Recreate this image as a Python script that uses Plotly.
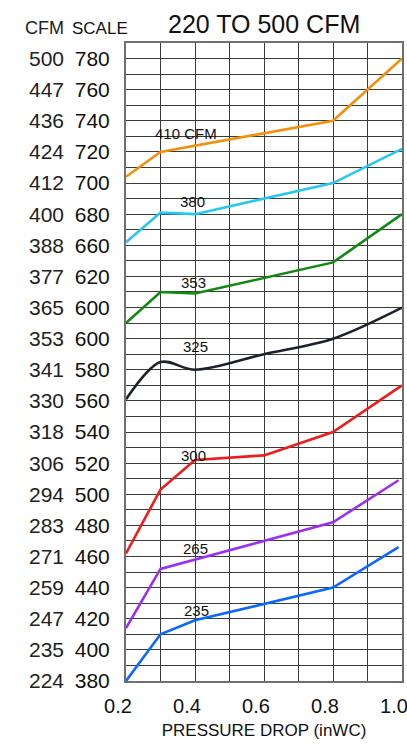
import plotly.graph_objects as go

# ---- data (position scale units) ----
x_410 = [0.2, 0.3, 0.8, 1.0]
y_410 = [704, 720, 740, 780]
x_380 = [0.2, 0.3, 0.4, 0.8, 1.0]
y_380 = [662, 681, 680, 700, 722]
x_353 = [0.2, 0.3, 0.4, 0.8, 1.0]
y_353 = [610, 630, 629, 649, 680]
x_325 = [0.2, 0.3, 0.4, 0.6, 0.8, 1.0]
y_325 = [561, 585, 580, 590, 600, 620]
x_300 = [0.2, 0.3, 0.4, 0.6, 0.8, 1.0]
y_300 = [462, 503, 522, 525, 540, 570]
x_265 = [0.2, 0.3, 0.8, 0.99]
y_265 = [414, 452, 482, 509]
x_235 = [0.2, 0.3, 0.4, 0.8, 0.99]
y_235 = [380, 410, 419, 440, 466]

series_names = ["410 CFM", "380", "353", "325", "300", "265", "235"]
series_colors = ["#F0900C", "#28C8EE", "#108A10", "#1C222C", "#EE1C1C", "#9B30F0", "#0A68FF"]
label_x = [0.374, 0.394, 0.396, 0.40, 0.397, 0.402, 0.405]
label_y = [732, 688, 636, 595, 525, 465, 425]

scale_pos = [780, 760, 740, 720, 700, 680, 660, 640, 620, 600, 580, 560, 540, 520, 500, 480, 460, 440, 420, 400, 380]
scale_text = ["780", "760", "740", "720", "700", "680", "660", "620", "600", "600", "580", "560", "540", "520",
              "500", "480", "460", "440", "420", "400", "380"]
cfm_text = ["500", "447", "436", "424", "412", "400", "388", "377", "365", "353", "341", "330", "318", "306",
            "294", "283", "271", "259", "247", "235", "224"]
x_tickvals = [0.2, 0.4, 0.6, 0.8, 1.0]
x_ticktext = ["0.2", "0.4", "0.6", "0.8", "1.0"]

FONT = "Liberation Sans, Arial, sans-serif"
GRID = "#3a3a3a"
PW = 402.0   # paper width in px (407 - r margin)
PH = 638.0   # paper height in px (744 - t - b)

xs = [x_410, x_380, x_353, x_325, x_300, x_265, x_235]
ys = [y_410, y_380, y_353, y_325, y_300, y_265, y_235]

fig = go.Figure()
for i, (xx, yy) in enumerate(zip(xs, ys)):
    fig.add_trace(go.Scatter(
        x=xx, y=yy, mode="lines", name=series_names[i],
        line=dict(color=series_colors[i], width=2.6,
                  shape="spline" if series_names[i] == "325" else "linear",
                  smoothing=0.9),
        showlegend=False, hoverinfo="skip"))

# invisible trace to activate the second (CFM) axis
fig.add_trace(go.Scatter(x=[0.2], y=[380], yaxis="y2", mode="markers",
                         marker=dict(opacity=0), showlegend=False, hoverinfo="skip"))

for name, lx, ly in zip(series_names, label_x, label_y):
    fig.add_annotation(x=lx, y=ly, text=name, showarrow=False, xanchor="center",
                       font=dict(family=FONT, size=15, color="#111"))

fig.add_annotation(x=0.5, xref="x domain", y=1 + (43 - 24) / PH, yref="paper", text="220 TO 500 CFM",
                   showarrow=False, yanchor="middle", xanchor="center",
                   font=dict(family=FONT, size=25, color="#111"))
fig.add_annotation(x=44 / PW, xref="paper", y=1 + (43 - 28) / PH, yref="paper", text="CFM",
                   showarrow=False, yanchor="middle", xanchor="center",
                   font=dict(family=FONT, size=18, color="#222"))
fig.add_annotation(x=100 / PW, xref="paper", y=1 + (43 - 28) / PH, yref="paper", text="SCALE",
                   showarrow=False, yanchor="middle", xanchor="center",
                   font=dict(family=FONT, size=17, color="#111"))

fig.update_layout(
    width=407, height=744,
    margin=dict(l=0, r=5, t=43, b=63, autoexpand=False),
    paper_bgcolor="white", plot_bgcolor="white",
    xaxis=dict(
        domain=[126 / PW, 1], range=[0.2, 1.0],
        tickvals=x_tickvals, ticktext=x_ticktext,
        showgrid=True, gridcolor=GRID, gridwidth=1.2,
        minor=dict(dtick=0.1, tick0=0.2, showgrid=True, gridcolor=GRID, gridwidth=1.2),
        showline=True, linecolor="#707070", linewidth=2, mirror=True,
        ticks="", ticklabelstandoff=6, ticklabelshift=-8, ticklabeloverflow="allow",
        tickfont=dict(family=FONT, size=20, color="#111"),
        title=dict(text="PRESSURE DROP (inWC)", standoff=8,
                   font=dict(family=FONT, size=17, color="#111")),
        zeroline=False, fixedrange=True, automargin=False,
    ),
    yaxis=dict(
        range=[380, 790],
        tickvals=scale_pos, ticktext=scale_text,
        showgrid=True, gridcolor=GRID, gridwidth=1.2,
        minor=dict(dtick=10, tick0=380, showgrid=True, gridcolor=GRID, gridwidth=1.2),
        showline=True, linecolor="#707070", linewidth=2, mirror=True,
        ticks="", ticklabelstandoff=10,
        tickfont=dict(family=FONT, size=21, color="#111"),
        zeroline=False, fixedrange=True, automargin=False,
    ),
    yaxis2=dict(
        overlaying="y", anchor="free", position=64 / PW, side="left",
        range=[380, 790],
        tickvals=scale_pos, ticktext=cfm_text,
        showgrid=False, showline=False, ticks="", zeroline=False,
        tickfont=dict(family=FONT, size=21, color="#222"),
        fixedrange=True, automargin=False,
    ),
)

fig.write_html("out.html", config={"displayModeBar": False},
               post_script="document.body.style.margin='0';")
